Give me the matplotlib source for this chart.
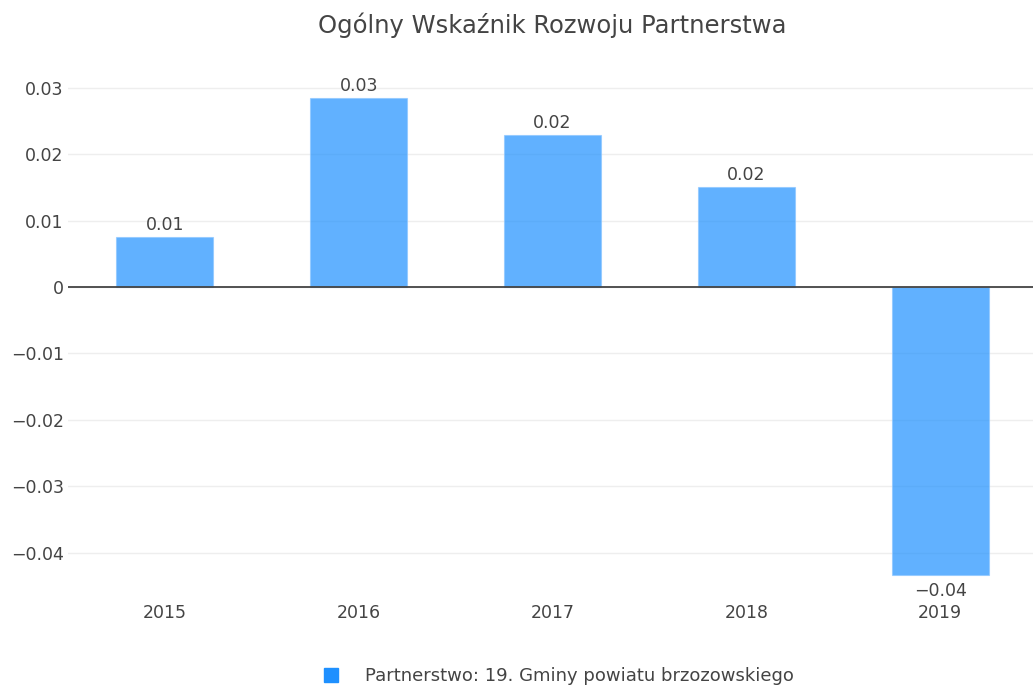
import matplotlib.pyplot as plt
from matplotlib.patches import Patch

lata = ["2015", "2016", "2017", "2018", "2019"]
wartosci = [0.0075, 0.0285, 0.0229, 0.0151, -0.0434]
tytul = "Ogólny Wskaźnik Rozwoju Partnerstwa"
seria = "Partnerstwo: 19. Gminy powiatu brzozowskiego"

plt.rcParams['font.family'] = ['DejaVu Sans']
szary = "#444444"

fig = plt.figure(figsize=(10.33, 6.86), dpi=100)
ax = fig.add_axes([68 / 1033, 1 - 597 / 686, 969 / 1033, (597 - 60) / 686])

x = range(len(lata))
ax.bar(x, wartosci, width=0.5, color="#1e90ff", alpha=0.7, edgecolor="#8cc6ff",
       linewidth=0.8, zorder=2)

for i, v in zip(x, wartosci):
    txt = f"{v:.2f}".replace("-", "\u2212")
    if v >= 0:
        ax.annotate(txt, (i, v), xytext=(0, 2), textcoords="offset points",
                    ha="center", va="bottom", fontsize=12.5, color=szary)
    else:
        ax.annotate(txt, (i, v), xytext=(0, -5), textcoords="offset points",
                    ha="center", va="top", fontsize=12.5, color=szary)

ax.set_xlim(-0.5, 4.5)
ax.set_ylim(-0.0467, 0.0342)
ax.set_xticks(list(x))
ax.set_xticklabels(lata)
ax.set_yticks([-0.04, -0.03, -0.02, -0.01, 0, 0.01, 0.02, 0.03])
ax.set_yticklabels(["\u22120.04", "\u22120.03", "\u22120.02", "\u22120.01", "0",
                    "0.01", "0.02", "0.03"])
ax.tick_params(axis="both", length=0, labelsize=12.5, colors=szary)
ax.tick_params(axis="y", pad=3)
ax.tick_params(axis="x", pad=5)
ax.grid(axis="y", color="#eeeeee", linewidth=1, zorder=0)
ax.axhline(0, color="#444444", linewidth=1.3, zorder=3)
for s in ax.spines.values():
    s.set_visible(False)

fig.text(552 / 1033, 1 - 25 / 686, tytul, ha="center", va="center",
         fontsize=17.5, color=szary)

uchwyt = Patch(facecolor="#1e90ff", edgecolor="#1e90ff")
fig.legend([uchwyt], [seria], loc="center", bbox_to_anchor=(559 / 1033, 1 - 676 / 686),
           frameon=False, fontsize=13, labelcolor=szary, handlelength=0.8,
           handleheight=0.8, handletextpad=1.5)

fig.savefig("out.png", dpi=100)
